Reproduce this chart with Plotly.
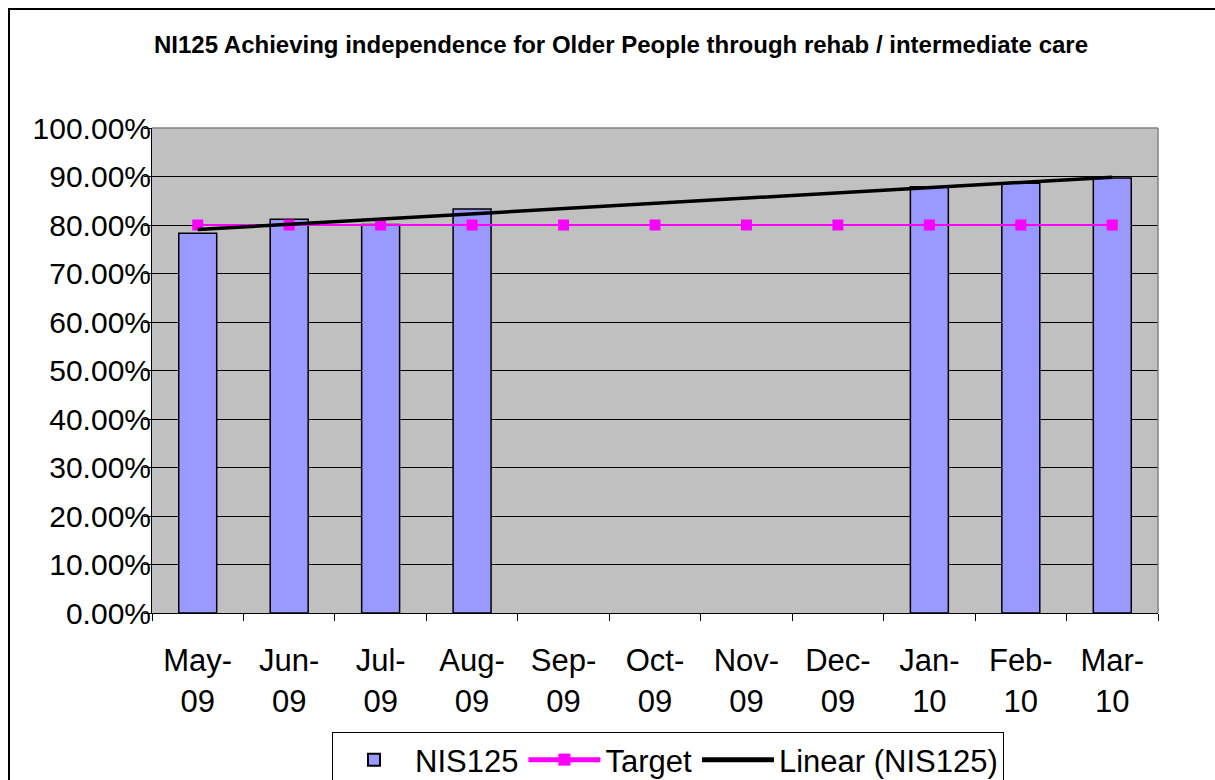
import plotly.graph_objects as go
import numpy as np

categories = ["May-<br>09", "Jun-<br>09", "Jul-<br>09", "Aug-<br>09", "Sep-<br>09", "Oct-<br>09",
              "Nov-<br>09", "Dec-<br>09", "Jan-<br>10", "Feb-<br>10", "Mar-<br>10"]
nis125 = [0.783, 0.812, 0.801, 0.833, None, None, None, None, 0.879, 0.886, 0.897]
target = [0.80] * 11
title_text = "NI125 Achieving independence for Older People through rehab / intermediate care"

# Excel-style linear trendline (blanks skipped, x = 1..n)
xs = np.array([i + 1 for i, v in enumerate(nis125) if v is not None], dtype=float)
ys = np.array([v for v in nis125 if v is not None], dtype=float)
slope, intercept = np.polyfit(xs, ys, 1)
trend_x = [categories[0], categories[-1]]
trend_y = [intercept + slope * 1, intercept + slope * len(categories)]

W, H = 1215, 780
L, R, T, B = 152, 1158, 128, 613
pw, ph = R - L, B - T

def px(x):
    return (x - L) / pw

def py(y):
    return (B - y) / ph

FONT = "Liberation Sans, Arial, sans-serif"

fig = go.Figure()
fig.add_trace(go.Bar(x=categories, y=nis125, name="NIS125",
                     marker=dict(color="#9999FF", line=dict(color="black", width=1.5))))
fig.add_trace(go.Scatter(x=categories, y=target, name="Target", mode="lines+markers",
                         line=dict(color="#FF00FF", width=2),
                         marker=dict(symbol="square", size=11, color="#FF00FF")))
fig.add_trace(go.Scatter(x=trend_x, y=trend_y, name="Linear (NIS125)", mode="lines",
                         line=dict(color="black", width=3.5)))

fig.update_layout(
    width=W, height=H,
    margin=dict(l=L, r=W - R, t=T, b=H - B, autoexpand=False),
    paper_bgcolor="white", plot_bgcolor="#C0C0C0",
    bargap=0.585,
    font=dict(family=FONT, color="black", size=31),
    showlegend=True,
    legend=dict(orientation="h", x=px(332), y=py(732), xanchor="left", yanchor="top",
                bgcolor="white", bordercolor="black", borderwidth=1,
                font=dict(size=31, family=FONT), itemsizing="constant",
                tracegroupgap=0, itemwidth=72),
)
fig.update_xaxes(type="category", tickson="boundaries", ticks="outside", ticklen=7,
                 tickcolor="black", showline=True, linecolor="black", linewidth=1,
                 showgrid=False, tickfont=dict(size=31, family=FONT),
                 range=[-0.5, 10.5], ticklabelstandoff=20)
fig.update_yaxes(range=[0, 1], tickformat=".2%", dtick=0.1, ticks="outside", ticklen=7,
                 tickcolor="black", showline=True, linecolor="black", linewidth=1,
                 showgrid=True, gridcolor="black", gridwidth=1,
                 tickfont=dict(size=30, family=FONT), zeroline=False, ticklabelstandoff=-13)

# plot area top/right grey border
fig.add_shape(type="line", xref="paper", yref="paper", x0=0, x1=1, y0=1, y1=1,
              line=dict(color="#808080", width=1.5))
fig.add_shape(type="line", xref="paper", yref="paper", x0=1, x1=1, y0=0, y1=1,
              line=dict(color="#808080", width=1.5))
# outer chart border
fig.add_shape(type="rect", xref="paper", yref="paper",
              x0=px(9), x1=px(1230), y0=py(800), y1=py(9),
              line=dict(color="black", width=2), fillcolor="rgba(0,0,0,0)", layer="above")

fig.add_annotation(text="<b>" + title_text + "</b>", xref="paper", yref="paper",
                   x=px(621), y=py(45), xanchor="center", yanchor="middle",
                   showarrow=False, font=dict(size=24, family=FONT, color="black"))

fig.write_html("out.html", config={"displayModeBar": False},
               post_script="document.body.style.margin='0';")
